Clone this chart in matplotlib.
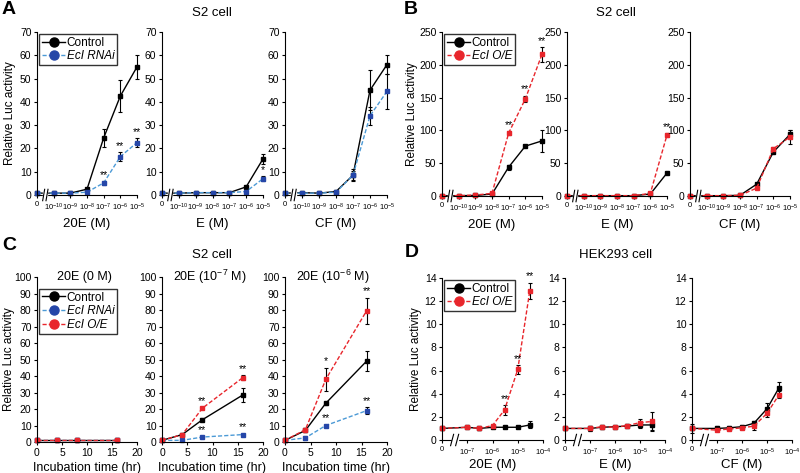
import matplotlib
matplotlib.use("Agg")
import matplotlib.pyplot as plt
from matplotlib.lines import Line2D

plt.rcParams['font.family'] = ['Liberation Sans', 'DejaVu Sans']
plt.rcParams['mathtext.fontset'] = 'custom'
plt.rcParams['mathtext.rm'] = 'Liberation Sans'
plt.rcParams['mathtext.it'] = 'Liberation Sans:italic'

# ---- data ----
dose_labels_a = ['0', r'10$^{-10}$', r'10$^{-9}$', r'10$^{-8}$', r'10$^{-7}$', r'10$^{-6}$', r'10$^{-5}$']
dose_pos_a = [0, 1, 2, 3, 4, 5, 6]

# A: S2 cell, control vs EcI RNAi
a_20e_ctrl = [0.8, 0.8, 0.8, 2.5, 24.5, 42.5, 55.0]
a_20e_ctrl_err = [0.2, 0.2, 0.2, 0.5, 4.0, 7.0, 5.0]
a_20e_rnai = [0.8, 0.8, 0.8, 1.2, 5.2, 16.5, 22.5]
a_20e_rnai_err = [0.2, 0.2, 0.2, 0.3, 0.7, 2.0, 2.0]
a_e_ctrl = [0.8, 0.8, 1.0, 1.0, 1.0, 3.5, 15.5]
a_e_ctrl_err = [0.2, 0.2, 0.2, 0.2, 0.2, 0.5, 2.0]
a_e_rnai = [0.8, 0.8, 1.0, 1.0, 1.0, 1.5, 7.0]
a_e_rnai_err = [0.2, 0.2, 0.2, 0.2, 0.2, 0.3, 1.0]
a_cf_ctrl = [0.8, 1.0, 0.8, 1.5, 8.5, 45.0, 56.0]
a_cf_ctrl_err = [0.2, 0.2, 0.2, 0.3, 2.5, 8.5, 4.0]
a_cf_rnai = [0.8, 0.8, 0.8, 1.2, 8.5, 34.0, 44.5]
a_cf_rnai_err = [0.2, 0.2, 0.2, 0.3, 2.0, 4.0, 7.5]

# B: S2 cell, control vs EcI O/E
b_20e_ctrl = [0.5, 0.5, 0.8, 3.0, 44.0, 76.0, 84.0]
b_20e_ctrl_err = [0.3, 0.3, 0.3, 0.5, 4.0, 2.0, 17.0]
b_20e_oe = [0.5, 0.5, 1.5, 4.0, 96.0, 148.0, 216.0]
b_20e_oe_err = [0.3, 0.3, 0.3, 0.5, 3.0, 5.0, 11.0]
b_e_ctrl = [0.5, 0.5, 0.5, 0.5, 0.5, 3.0, 35.0]
b_e_ctrl_err = [0.3, 0.3, 0.3, 0.3, 0.3, 0.5, 1.0]
b_e_oe = [0.5, 0.5, 0.5, 0.5, 0.5, 4.0, 93.0]
b_e_oe_err = [0.3, 0.3, 0.3, 0.3, 0.3, 0.5, 3.0]
b_cf_ctrl = [0.5, 0.5, 0.5, 1.0, 18.0, 67.0, 94.0]
b_cf_ctrl_err = [0.3, 0.3, 0.3, 0.3, 2.0, 2.0, 7.0]
b_cf_oe = [0.5, 0.5, 0.5, 1.0, 12.0, 72.0, 90.0]
b_cf_oe_err = [0.3, 0.3, 0.3, 0.3, 1.0, 3.0, 10.0]

# C: S2 cell, time course
time_hr = [0, 4, 8, 16]
c0_ctrl = [1.0, 1.0, 1.0, 1.0]
c0_rnai = [1.0, 1.0, 1.0, 1.0]
c0_oe = [1.0, 1.0, 1.0, 1.0]
c0_err = [0.2, 0.2, 0.2, 0.2]
c7_ctrl = [1.0, 4.5, 13.5, 28.5]
c7_ctrl_err = [0.2, 0.5, 1.0, 4.5]
c7_rnai = [1.0, 1.0, 3.0, 4.5]
c7_rnai_err = [0.2, 0.3, 0.5, 0.5]
c7_oe = [1.0, 4.5, 20.5, 39.0]
c7_oe_err = [0.2, 0.5, 0.7, 1.5]
c6_ctrl = [1.0, 7.0, 23.5, 49.0]
c6_ctrl_err = [0.2, 1.0, 1.0, 6.0]
c6_rnai = [1.0, 2.5, 10.0, 19.0]
c6_rnai_err = [0.2, 1.0, 0.5, 2.0]
c6_oe = [1.0, 7.5, 38.0, 79.5]
c6_oe_err = [0.2, 1.0, 7.0, 8.0]

# D: HEK293 cell
dose_labels_d = ['0', r'10$^{-7}$', r'10$^{-6}$', r'10$^{-5}$', r'10$^{-4}$']
dose_tick_d = [0, 1, 2, 3, 4]
dose_pos_d = [0, 1, 1.477, 2, 2.477, 3, 3.477]
d_20e_ctrl = [1.0, 1.1, 1.0, 1.1, 1.1, 1.1, 1.3]
d_20e_ctrl_err = [0.1, 0.1, 0.1, 0.1, 0.05, 0.05, 0.3]
d_20e_oe = [1.0, 1.1, 1.0, 1.25, 2.6, 6.1, 12.9]
d_20e_oe_err = [0.1, 0.1, 0.1, 0.1, 0.4, 0.4, 0.7]
d_e_ctrl = [1.0, 1.0, 1.1, 1.15, 1.2, 1.3, 1.3]
d_e_ctrl_err = [0.1, 0.2, 0.15, 0.1, 0.1, 0.3, 0.4]
d_e_oe = [1.0, 1.0, 1.15, 1.1, 1.25, 1.5, 1.6]
d_e_oe_err = [0.1, 0.2, 0.15, 0.1, 0.1, 0.3, 0.8]
d_cf_ctrl = [1.0, 1.0, 1.05, 1.15, 1.45, 2.7, 4.5]
d_cf_ctrl_err = [0.4, 0.2, 0.15, 0.15, 0.15, 0.5, 0.5]
d_cf_oe = [1.0, 0.85, 0.95, 1.05, 1.2, 2.3, 3.9]
d_cf_oe_err = [0.1, 0.1, 0.1, 0.1, 0.3, 0.3, 0.3]

STYLE = {
    'ctrl': dict(color='black', ls='-', mc='black'),
    'rnai': dict(color='#4c9ad6', ls='--', mc='#2546a8'),
    'oe': dict(color='#e8262c', ls='--', mc='#e8262c'),
}

W, H = 800, 473
fig = plt.figure(figsize=(8, 4.73), dpi=100)


def make_ax(x0, x1, ytop, ybot):
    ax = fig.add_axes([x0 / W, 1 - ybot / H, (x1 - x0) / W, (ybot - ytop) / H])
    ax.spines['top'].set_visible(False)
    ax.spines['right'].set_visible(False)
    ax.tick_params(labelsize=7.5, length=2.5, width=0.8, pad=1.5)
    ax.tick_params(axis='x', labelsize=5.5, pad=2)
    return ax


def series(ax, x, y, err, kind):
    s = STYLE[kind]
    c = ax.errorbar(x, y, yerr=err, color=s['color'], marker='s', ms=3.0,
                    mfc=s['mc'], mec=s['mc'], lw=1.0, elinewidth=0.8, ecolor='black',
                    capsize=1.5, capthick=0.8, clip_on=False)
    if s['ls'] == '--':
        c[0].set_dashes((3, 1.5))
    for b in c[1] + c[2]:
        b.set_clip_on(False)


def stars(ax, x, y, err, idx, txt='**', pad=0.0):
    for i in idx:
        ax.text(x[i], y[i] + err[i] + pad, txt, ha='center', va='bottom', fontsize=7.5)


def brk(ax, xb):
    tr = ax.get_xaxis_transform()
    ax.fill_between([xb - 0.12, xb + 0.12], -0.03, 0.03, color='white', transform=tr,
                    zorder=5, clip_on=False)
    for dx in (-0.1, 0.1):
        ax.plot([xb + dx - 0.06, xb + dx + 0.06], [-0.035, 0.035], color='black', lw=0.8,
                transform=tr, zorder=6, clip_on=False)


def dose_axes(ax, ymax, step):
    ax.set_xlim(0, 6)
    ax.set_xticks(dose_pos_a)
    ax.set_xticklabels(dose_labels_a)
    ax.set_ylim(0, ymax)
    ax.set_yticks(range(0, ymax + 1, step))
    brk(ax, 0.5)


def legend(ax, entries, anchor=(0.0, 1.0)):
    handles = []
    for kind, label in entries:
        s = STYLE[kind]
        h = Line2D([], [], color=s['color'], ls=s['ls'], lw=1.0, marker='o', ms=6.5,
                   mfc=s['mc'], mec=s['mc'], label=label)
        if s['ls'] == '--':
            h.set_dashes((3, 1.5))
        handles.append(h)
    leg = ax.legend(handles=handles, loc='upper left', bbox_to_anchor=anchor, fontsize=8.5,
                    frameon=True, fancybox=False, edgecolor='black', borderpad=0.25,
                    handlelength=2.0, handletextpad=0.1, labelspacing=0.15,
                    borderaxespad=0.15)
    leg.get_frame().set_linewidth(1.0)
    for t in leg.get_texts()[1:]:
        t.set_fontstyle('italic')


def ylabel(ax, xpos):
    ax.set_ylabel('Relative Luc activity', fontsize=8.5)
    ax.yaxis.set_label_coords(xpos, 0.5)


xa = [(37, 137), (162, 263), (285, 387)]
xb = [(442, 542), (567, 667), (690, 790)]
xd = [(442, 543), (565, 665), (692, 792)]

# ---------- A ----------
A = [make_ax(x0, x1, 32, 195) for x0, x1 in xa]
series(A[0], dose_pos_a, a_20e_ctrl, a_20e_ctrl_err, 'ctrl')
series(A[0], dose_pos_a, a_20e_rnai, a_20e_rnai_err, 'rnai')
stars(A[0], dose_pos_a, a_20e_rnai, a_20e_rnai_err, [4, 5, 6], pad=0.5)
series(A[1], dose_pos_a, a_e_ctrl, a_e_ctrl_err, 'ctrl')
series(A[1], dose_pos_a, a_e_rnai, a_e_rnai_err, 'rnai')
stars(A[1], dose_pos_a, a_e_rnai, a_e_rnai_err, [6], txt='*', pad=0.5)
series(A[2], dose_pos_a, a_cf_ctrl, a_cf_ctrl_err, 'ctrl')
series(A[2], dose_pos_a, a_cf_rnai, a_cf_rnai_err, 'rnai')
for ax, lab in zip(A, ['20E (M)', 'E (M)', 'CF (M)']):
    dose_axes(ax, 70, 10)
    ax.set_xlabel(lab, fontsize=9.5, labelpad=4)
ylabel(A[0], -0.205)
legend(A[0], [('ctrl', 'Control'), ('rnai', 'EcI RNAi')])

# ---------- B ----------
B = [make_ax(x0, x1, 32, 196) for x0, x1 in xb]
series(B[0], dose_pos_a, b_20e_ctrl, b_20e_ctrl_err, 'ctrl')
series(B[0], dose_pos_a, b_20e_oe, b_20e_oe_err, 'oe')
stars(B[0], dose_pos_a, b_20e_oe, b_20e_oe_err, [4, 5, 6], pad=2)
series(B[1], dose_pos_a, b_e_ctrl, b_e_ctrl_err, 'ctrl')
series(B[1], dose_pos_a, b_e_oe, b_e_oe_err, 'oe')
stars(B[1], dose_pos_a, b_e_oe, b_e_oe_err, [6], pad=2)
series(B[2], dose_pos_a, b_cf_ctrl, b_cf_ctrl_err, 'ctrl')
series(B[2], dose_pos_a, b_cf_oe, b_cf_oe_err, 'oe')
for ax, lab in zip(B, ['20E (M)', 'E (M)', 'CF (M)']):
    dose_axes(ax, 250, 50)
    ax.set_xlabel(lab, fontsize=9.5, labelpad=4)
ylabel(B[0], -0.245)
legend(B[0], [('ctrl', 'Control'), ('oe', 'EcI O/E')])

# ---------- C ----------
C = [make_ax(x0, x1, 277, 442) for x0, x1 in xa]
series(C[0], time_hr, c0_ctrl, c0_err, 'ctrl')
series(C[0], time_hr, c0_rnai, c0_err, 'rnai')
series(C[0], time_hr, c0_oe, c0_err, 'oe')
series(C[1], time_hr, c7_ctrl, c7_ctrl_err, 'ctrl')
series(C[1], time_hr, c7_rnai, c7_rnai_err, 'rnai')
series(C[1], time_hr, c7_oe, c7_oe_err, 'oe')
stars(C[1], time_hr, c7_oe, c7_oe_err, [2, 3], pad=0.8)
stars(C[1], time_hr, c7_rnai, c7_rnai_err, [2, 3], pad=0.8)
series(C[2], time_hr, c6_ctrl, c6_ctrl_err, 'ctrl')
series(C[2], time_hr, c6_rnai, c6_rnai_err, 'rnai')
series(C[2], time_hr, c6_oe, c6_oe_err, 'oe')
stars(C[2], time_hr, c6_oe, c6_oe_err, [2], txt='*', pad=0.8)
stars(C[2], time_hr, c6_oe, c6_oe_err, [3], pad=0.8)
stars(C[2], time_hr, c6_rnai, c6_rnai_err, [2, 3], pad=0.8)
for ax, t in zip(C, ['20E (0 M)', r'20E (10$^{-7}$ M)', r'20E (10$^{-6}$ M)']):
    ax.set_xlim(0, 20)
    ax.set_xticks([0, 5, 10, 15, 20])
    ax.set_ylim(0, 100)
    ax.set_yticks(range(0, 101, 10))
    ax.tick_params(axis='x', labelsize=7.5)
    ax.set_xlabel('Incubation time (hr)', fontsize=9, labelpad=3)
    ax.text(0.47, 1.0, t, transform=ax.transAxes, ha='center', va='center', fontsize=9)
ylabel(C[0], -0.215)
legend(C[0], [('ctrl', 'Control'), ('rnai', 'EcI RNAi'), ('oe', 'EcI O/E')],
       anchor=(0.0, 0.94))

# ---------- D ----------
D = [make_ax(x0, x1, 278, 440) for x0, x1 in xd]
series(D[0], dose_pos_d, d_20e_ctrl, d_20e_ctrl_err, 'ctrl')
series(D[0], dose_pos_d, d_20e_oe, d_20e_oe_err, 'oe')
stars(D[0], dose_pos_d, d_20e_oe, d_20e_oe_err, [4, 5, 6], pad=0.1)
series(D[1], dose_pos_d, d_e_ctrl, d_e_ctrl_err, 'ctrl')
series(D[1], dose_pos_d, d_e_oe, d_e_oe_err, 'oe')
series(D[2], dose_pos_d, d_cf_ctrl, d_cf_ctrl_err, 'ctrl')
series(D[2], dose_pos_d, d_cf_oe, d_cf_oe_err, 'oe')
for ax, lab in zip(D, ['20E (M)', 'E (M)', 'CF (M)']):
    ax.set_xlim(0, 4)
    ax.set_xticks(dose_tick_d)
    ax.set_xticklabels(dose_labels_d)
    ax.set_ylim(0, 14)
    ax.set_yticks(range(0, 15, 2))
    brk(ax, 0.5)
    ax.set_xlabel(lab, fontsize=9.5, labelpad=1)
ylabel(D[0], -0.2)
legend(D[0], [('ctrl', 'Control'), ('oe', 'EcI O/E')])

# ---------- headings ----------
fig.text(212 / W, 1 - 13 / H, 'S2 cell', ha='center', va='center', fontsize=9.5)
fig.text(616 / W, 1 - 13 / H, 'S2 cell', ha='center', va='center', fontsize=9.5)
fig.text(212 / W, 1 - 255 / H, 'S2 cell', ha='center', va='center', fontsize=9.5)
fig.text(616 / W, 1 - 255 / H, 'HEK293 cell', ha='center', va='center', fontsize=9.5)
for lab, x, y in [('A', 2, 9), ('B', 404, 9), ('C', 2, 245), ('D', 405, 252)]:
    fig.text(x / W, 1 - y / H, lab, ha='left', va='center', fontsize=14, fontweight='bold')

fig.savefig('out.png', dpi=100)
